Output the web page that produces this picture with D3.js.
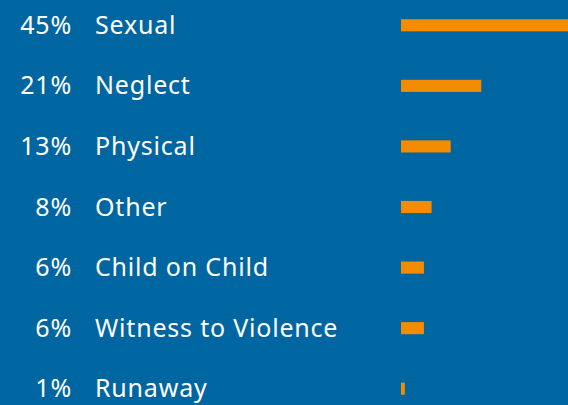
<html>
<head>
<meta charset="utf-8">
<style>
  body { margin: 0; background: #0066a1; overflow: hidden; }
</style>
</head>
<body>
<script src="https://cdn.jsdelivr.net/npm/d3@7"></script>
<script>
var categories = ["Sexual", "Neglect", "Physical", "Other", "Child on Child", "Witness to Violence", "Runaway"];
var percents = [45, 21, 13, 8, 6, 6, 1];

var width = 568, height = 405;
var svg = d3.select("body").append("svg")
    .attr("width", width)
    .attr("height", height);

svg.append("rect").attr("width", width).attr("height", height).attr("fill", "#0066a1");

// rows
var y = d3.scaleBand()
    .domain(categories)
    .range([-5, 419])
    .paddingInner(0.8)
    .paddingOuter(0.4);

// bar length, 45% runs off the right edge
var x = d3.scaleLinear()
    .domain([0, 45])
    .range([0, 172]);

var x0 = 401;

var rows = svg.selectAll("g.row")
    .data(categories)
    .join("g")
    .attr("class", "row")
    .attr("transform", d => "translate(0," + (y(d) + y.bandwidth() / 2) + ")");

rows.append("text")
    .attr("x", 72)
    .attr("y", 8.5)
    .attr("text-anchor", "end")
    .attr("fill", "#fff")
    .style("font-family", "'Noto Sans', sans-serif")
    .style("font-size", "25px")
    .style("letter-spacing", "0.8px")
    .text((d, i) => percents[i] + "%");

rows.append("text")
    .attr("x", 95)
    .attr("y", 8.5)
    .attr("fill", "#fff")
    .style("font-family", "'Noto Sans', sans-serif")
    .style("font-size", "25px")
    .style("letter-spacing", "0.8px")
    .text(d => d);

rows.append("rect")
    .attr("x", x0)
    .attr("y", -y.bandwidth() / 2)
    .attr("height", y.bandwidth())
    .attr("width", (d, i) => x(percents[i]))
    .attr("fill", "#f38c00");
</script>
</body>
</html>
